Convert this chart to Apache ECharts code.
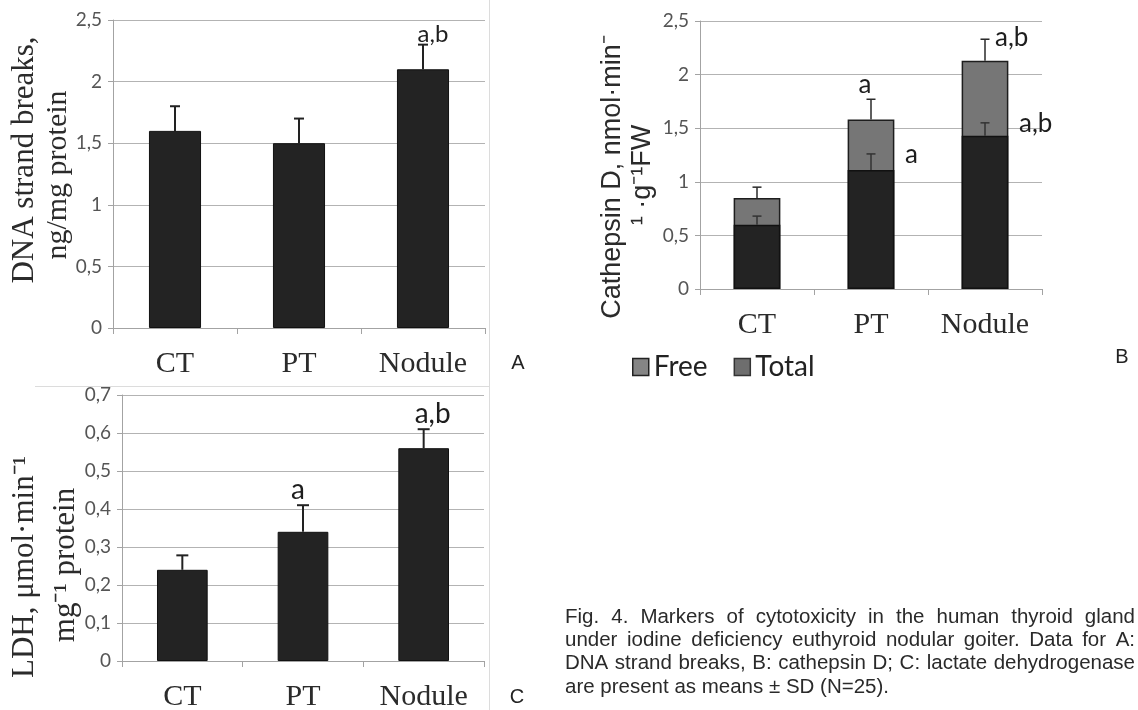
<!DOCTYPE html>
<html>
<head>
<meta charset="utf-8">
<script src="https://cdn.jsdelivr.net/npm/echarts@6/dist/echarts.min.js"></script>
<style>
  html, body { margin: 0; padding: 0; background: #fff; }
  #fig { width: 1138px; height: 710px; }
</style>
</head>
<body>
<div id="fig"></div>
<script>
  // groups shared by all three panels
  const groups = ['CT', 'PT', 'Nodule'];

  // A: DNA strand breaks, ng/mg protein (mean, SD)
  const dnaMean = [1.6, 1.5, 2.1];
  const dnaSd = [0.2, 0.2, 0.2];
  const dnaMarks = ['', '', 'a,b'];
  const dnaAxis = [0, 2.5, 0.5];

  // B: cathepsin D
  const freeMean = [0.6, 1.11, 1.43];
  const freeSd = [0.08, 0.15, 0.12];
  const freeMarks = ['', 'a', 'a,b'];
  const totalMean = [0.85, 1.58, 2.13];
  const totalSd = [0.1, 0.19, 0.2];
  const totalMarks = ['', 'a', 'a,b'];
  const catAxisB = [0, 2.5, 0.5];

  // C: LDH
  const ldhMean = [0.24, 0.34, 0.56];
  const ldhSd = [0.038, 0.07, 0.05];
  const ldhMarks = ['', 'a', 'a,b'];
  const ldhAxis = [0, 0.7, 0.1];

  const captionLines = [
    'Fig. 4. Markers of cytotoxicity in the human thyroid gland',
    'under iodine deficiency euthyroid nodular goiter. Data for A:',
    'DNA strand breaks, B: cathepsin D; C: lactate dehydrogenase',
    'are present as means \u00b1 SD (N=25).'
  ];

  const SERIF = '"Liberation Serif", "Times New Roman", serif';
  const SANS = '"Liberation Sans", Arial, sans-serif';
  const CAL = 'Lato, "Open Sans", sans-serif';
  const AXIS_GRAY = '#a3a3a3';

  const chart = echarts.init(document.getElementById('fig'));

  function commaNum(v) {
    return String(Math.round(v * 10) / 10).replace('.', ',');
  }

  function catAxis(gi) {
    return {
      type: 'category', gridIndex: gi, data: groups,
      axisLine: { lineStyle: { color: AXIS_GRAY, width: 1 } },
      axisTick: { show: true, length: 6, lineStyle: { color: AXIS_GRAY } },
      axisLabel: { interval: 0, color: '#2b2b2b', fontFamily: SERIF, fontSize: 30, margin: 21 }
    };
  }

  function valAxis(gi, lim) {
    return {
      type: 'value', gridIndex: gi, min: lim[0], max: lim[1], interval: lim[2],
      axisLine: { show: true, lineStyle: { color: AXIS_GRAY } },
      axisTick: { show: true, length: 5, lineStyle: { color: AXIS_GRAY } },
      splitLine: { show: true, lineStyle: { color: '#b3b3b3', width: 1 } },
      axisLabel: { color: '#555', fontFamily: CAL, fontSize: 19, margin: 11, formatter: commaNum }
    };
  }

  function markText(text, x, y, align, size) {
    return {
      type: 'text', x: x, y: y,
      style: { text: text, fill: '#1e1e1e', fontFamily: CAL, fontSize: size, align: align, verticalAlign: 'middle' }
    };
  }

  // error bars (mean -> mean + SD) with the significance marks
  function errorBars(gi, mean, sd, marks, cap, lw, color, place) {
    return {
      type: 'custom', xAxisIndex: gi, yAxisIndex: gi, z: 10, silent: true,
      data: mean.map((m, i) => [i, m, m + sd[i]]),
      renderItem: function (params, api) {
        const i = api.value(0);
        const base = api.coord([i, api.value(1)]);
        const top = api.coord([i, api.value(2)]);
        const kids = [
          { type: 'line', shape: { x1: base[0], y1: base[1], x2: top[0], y2: top[1] }, style: { stroke: color, lineWidth: lw } },
          { type: 'line', shape: { x1: top[0] - cap / 2, y1: top[1], x2: top[0] + cap / 2, y2: top[1] }, style: { stroke: color, lineWidth: lw } }
        ];
        if (marks[i]) kids.push(place(marks[i], top));
        return { type: 'group', children: kids };
      }
    };
  }

  // justified caption, word by word
  const meas = document.createElement('canvas').getContext('2d');
  const capSize = 20.5;
  meas.font = capSize + 'px "Liberation Sans"';
  const capLeft = 565, capRight = 1135, capTop = 617, capStep = 23.3;
  const captionEls = [];
  captionLines.forEach(function (line, li) {
    const y = capTop + li * capStep;
    const style = { fill: '#2a2a2a', fontFamily: SANS, fontSize: capSize, verticalAlign: 'middle', align: 'left' };
    if (li === captionLines.length - 1) {
      captionEls.push({ type: 'text', x: capLeft, y: y, style: Object.assign({ text: line }, style) });
      return;
    }
    const words = line.split(' ');
    const widths = words.map(w => meas.measureText(w).width);
    const sum = widths.reduce((a, b) => a + b, 0);
    const gap = Math.max(meas.measureText(' ').width, (capRight - capLeft - sum) / (words.length - 1));
    let x = capLeft;
    words.forEach(function (w, k) {
      captionEls.push({ type: 'text', x: x, y: y, style: Object.assign({ text: w }, style) });
      x += widths[k] + gap;
    });
  });

  function vTitle(text, x, y, fam, size) {
    return {
      type: 'text', x: x, y: y, rotation: Math.PI / 2,
      style: { text: text, fill: '#2b2b2b', fontFamily: fam, fontSize: size, align: 'center', verticalAlign: 'middle' }
    };
  }

  const option = {
    animation: false,
    backgroundColor: '#fff',
    grid: [
      { left: 113, top: 20, width: 372, height: 308, outerBoundsMode: 'none' },
      { left: 700, top: 21, width: 342, height: 268, outerBoundsMode: 'none' },
      { left: 122, top: 395, width: 362, height: 266, outerBoundsMode: 'none' }
    ],
    xAxis: [catAxis(0), catAxis(1), catAxis(2)],
    yAxis: [valAxis(0, dnaAxis), valAxis(1, catAxisB), valAxis(2, ldhAxis)],
    legend: {
      left: 627, top: 348, icon: 'rect', itemWidth: 16, itemHeight: 17, itemGap: 26,
      selectedMode: false,
      textStyle: { fontFamily: CAL, fontSize: 28, color: '#222' },
      data: [
        { name: 'Free', itemStyle: { color: '#858585', borderColor: '#222', borderWidth: 1.5 } },
        { name: 'Total', itemStyle: { color: '#6e6e6e', borderColor: '#333', borderWidth: 1.5 } }
      ]
    },
    graphic: [
      { type: 'line', shape: { x1: 489.5, y1: 0, x2: 489.5, y2: 710 }, style: { stroke: '#dcdcdc', lineWidth: 1 } },
      { type: 'line', shape: { x1: 35, y1: 386.5, x2: 489.5, y2: 386.5 }, style: { stroke: '#dcdcdc', lineWidth: 1 } },
      vTitle('DNA strand breaks,', 25, 160, SERIF, 31),
      vTitle('ng/mg protein', 58, 175, SERIF, 30),
      vTitle('Cathepsin D, nmol\u00b7min\u207b', 613, 177, SANS, 27),
      vTitle('\u00b9 \u00b7g\u207b\u00b9FW', 643, 175, SANS, 27),
      vTitle('LDH, \u03bcmol\u00b7min\u207b\u00b9', 25, 567, SERIF, 31),
      vTitle('mg\u207b\u00b9 protein', 66, 565, SERIF, 31),
      { type: 'text', x: 518, y: 363, style: { text: 'A', fill: '#222', fontFamily: SANS, fontSize: 20, align: 'center', verticalAlign: 'middle' } },
      { type: 'text', x: 1122, y: 357, style: { text: 'B', fill: '#222', fontFamily: SANS, fontSize: 20, align: 'center', verticalAlign: 'middle' } },
      { type: 'text', x: 517, y: 697, style: { text: 'C', fill: '#222', fontFamily: SANS, fontSize: 20, align: 'center', verticalAlign: 'middle' } }
    ].concat(captionEls),
    series: [
      {
        name: 'DNA', type: 'bar', xAxisIndex: 0, yAxisIndex: 0, data: dnaMean, barWidth: '42%',
        itemStyle: { color: '#232323', borderColor: '#111', borderWidth: 1 }
      },
      errorBars(0, dnaMean, dnaSd, dnaMarks, 10, 2, '#222', function (t, p) {
        return markText(t, p[0] + 10, p[1] - 10, 'center', 24);
      }),
      {
        name: 'Total', type: 'bar', xAxisIndex: 1, yAxisIndex: 1, data: totalMean, barWidth: '41%', barGap: '-100%',
        itemStyle: { color: '#767676', borderColor: '#1e1e1e', borderWidth: 1.5 }
      },
      {
        name: 'Free', type: 'bar', xAxisIndex: 1, yAxisIndex: 1, data: freeMean, barWidth: '41%', barGap: '-100%',
        itemStyle: { color: '#232323', borderColor: '#111', borderWidth: 1.5 }
      },
      errorBars(1, totalMean, totalSd, totalMarks, 9, 1.5, '#2a2a2a', function (t, p) {
        if (t.indexOf(',') >= 0) return markText(t, p[0] + 10, p[1] - 2, 'left', 26);
        return markText(t, p[0] - 6, p[1] - 15, 'center', 26);
      }),
      errorBars(1, freeMean, freeSd, freeMarks, 9, 1.5, '#333', function (t, p) {
        return markText(t, p[0] + 34, p[1] + 1, 'left', 26);
      }),
      {
        name: 'LDH', type: 'bar', xAxisIndex: 2, yAxisIndex: 2, data: ldhMean, barWidth: '42%',
        itemStyle: { color: '#232323', borderColor: '#111', borderWidth: 1 }
      },
      errorBars(2, ldhMean, ldhSd, ldhMarks, 12, 2, '#222', function (t, p) {
        if (t.indexOf(',') >= 0) return markText(t, p[0] + 9, p[1] - 15, 'center', 28);
        return markText(t, p[0] - 5, p[1] - 15, 'center', 28);
      })
    ]
  };

  chart.setOption(option);
  window.addEventListener('resize', () => {
    chart.resize();
  });
</script>
</body>
</html>
